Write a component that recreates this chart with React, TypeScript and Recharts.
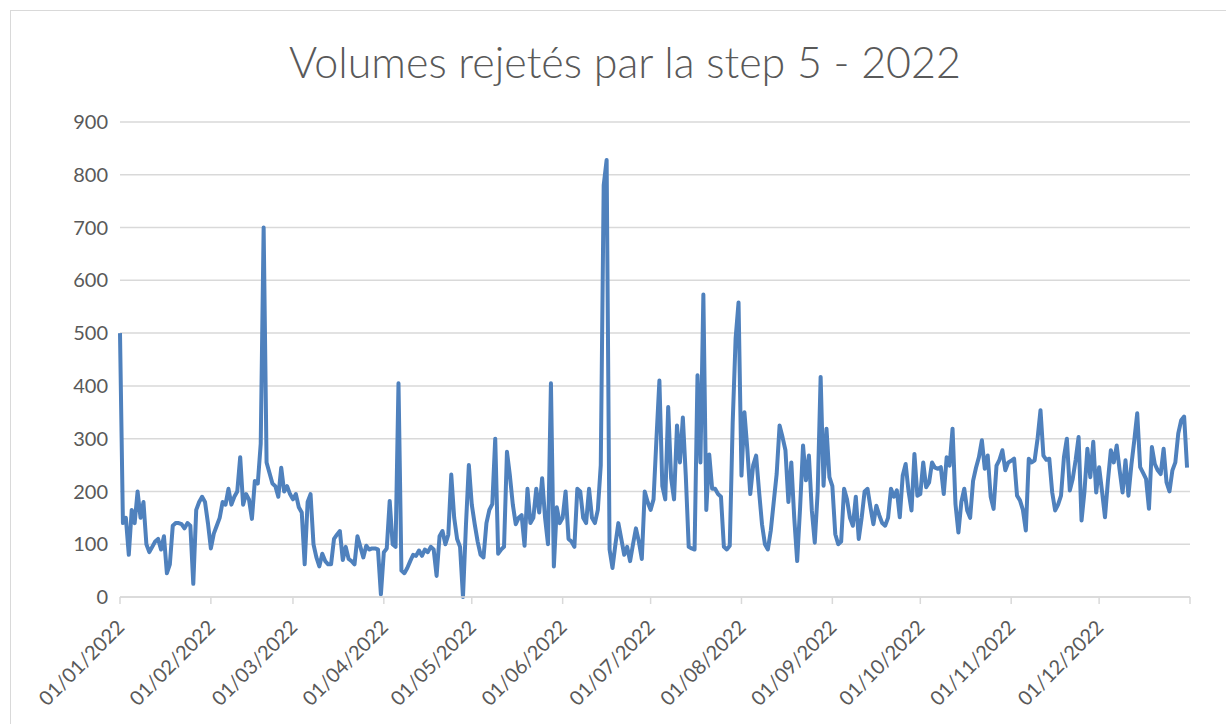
import { CartesianGrid, Line, LineChart, XAxis, YAxis } from "recharts";

const TEXT_COLOR = "#595959";
const GRID_COLOR = "#d9d9d9";
const LINE_COLOR = "#4f81bd";
const FONT = "Lato, 'Open Sans', sans-serif";

// daily values, one array per month (2022)
const jan = [500, 140, 150, 80, 165, 140, 200, 150, 180, 100, 85, 95, 105, 110, 90, 115, 45, 62, 135, 140, 140, 138, 130, 140, 135, 25, 165, 180, 190, 180, 140];
const feb = [92, 120, 135, 150, 180, 175, 205, 175, 190, 200, 265, 175, 195, 185, 148, 220, 215, 290, 700, 255, 235, 215, 210, 190, 245, 200, 210, 195];
const mar = [185, 195, 170, 160, 62, 180, 195, 100, 75, 58, 82, 68, 62, 62, 110, 118, 125, 70, 95, 72, 68, 62, 115, 95, 75, 97, 90, 92, 92, 90, 5];
const apr = [85, 92, 182, 100, 95, 405, 50, 45, 55, 68, 80, 78, 88, 78, 90, 85, 95, 90, 40, 115, 125, 100, 118, 232, 150, 110, 95, 0, 135, 250];
const may = [175, 138, 105, 80, 75, 140, 165, 176, 300, 82, 90, 95, 275, 230, 175, 138, 150, 155, 97, 205, 140, 150, 205, 160, 225, 150, 100, 405, 58, 170, 140];
const jun = [150, 200, 110, 105, 95, 205, 200, 150, 140, 205, 150, 140, 165, 250, 780, 828, 90, 55, 100, 140, 110, 80, 95, 68, 100, 130, 105, 72, 200, 180];
const jul = [165, 185, 300, 410, 210, 185, 360, 225, 185, 325, 255, 340, 230, 95, 92, 90, 420, 255, 573, 165, 270, 205, 205, 195, 190, 95, 90, 97, 330, 490, 558];
const aug = [230, 350, 280, 195, 250, 268, 200, 138, 100, 90, 126, 180, 233, 325, 303, 278, 180, 255, 150, 68, 170, 287, 221, 268, 164, 103, 200, 417, 211, 319, 227];
const sep = [210, 119, 100, 105, 205, 185, 150, 135, 190, 110, 150, 200, 205, 170, 138, 173, 155, 140, 135, 150, 205, 190, 202, 151, 230, 252, 200, 164, 271, 192];
const oct = [195, 255, 208, 217, 255, 245, 243, 246, 195, 265, 249, 319, 176, 122, 180, 205, 164, 150, 220, 245, 265, 297, 243, 268, 190, 167, 249, 260, 278, 240, 255];
const nov = [258, 262, 192, 183, 165, 126, 262, 255, 259, 300, 354, 268, 260, 262, 198, 164, 175, 192, 265, 300, 202, 224, 260, 303, 145, 200, 281, 227, 294, 198];
const dec = [246, 200, 151, 220, 278, 255, 287, 240, 198, 259, 192, 250, 297, 348, 246, 235, 224, 167, 284, 252, 240, 233, 281, 217, 200, 240, 255, 310, 335, 342, 245];

// first day of each month (day index from 01/01/2022) and its label
const monthStarts = [0, 31, 59, 90, 120, 151, 181, 212, 243, 273, 304, 334, 365];
const monthLabels = [
  "01/01/2022", "01/02/2022", "01/03/2022", "01/04/2022", "01/05/2022", "01/06/2022",
  "01/07/2022", "01/08/2022", "01/09/2022", "01/10/2022", "01/11/2022", "01/12/2022", "",
];
const yTicks = [0, 100, 200, 300, 400, 500, 600, 700, 800, 900];

const data = [jan, feb, mar, apr, may, jun, jul, aug, sep, oct, nov, dec]
  .flat()
  .map((value, day) => ({ day, value }));

function DateTick(props: any) {
  const { x, y, payload } = props;
  const idx = monthStarts.indexOf(payload.value);
  const label = idx >= 0 ? monthLabels[idx] : "";
  const ty = y + 17;
  return (
    <text
      x={x}
      y={ty}
      textAnchor="end"
      dominantBaseline="central"
      transform={`rotate(-45, ${x}, ${ty})`}
      fill={TEXT_COLOR}
      fontSize={20}
      fontFamily={FONT}
    >
      {label}
    </text>
  );
}

export default function App() {
  return (
    <div
      style={{
        position: "absolute",
        left: 0,
        top: 0,
        width: 1226,
        height: 724,
        overflow: "hidden",
        background: "#fff",
        fontFamily: FONT,
      }}
    >
      <div
        style={{
          position: "absolute",
          left: 10,
          top: 10,
          width: 1240,
          height: 740,
          border: `1px solid ${GRID_COLOR}`,
        }}
      />
      <div
        style={{
          position: "absolute",
          left: 10,
          top: 40,
          width: 1230,
          textAlign: "center",
          fontSize: 43,
          fontWeight: 300,
          lineHeight: "43px",
          color: TEXT_COLOR,
        }}
      >
        Volumes rejetés par la step 5 - 2022
      </div>
      <div style={{ position: "absolute", left: 0, top: 0 }}>
        <LineChart
          width={1226}
          height={724}
          data={data}
          margin={{ top: 122, right: 36, bottom: 27, left: 60 }}
        >
          <CartesianGrid stroke={GRID_COLOR} strokeWidth={1.5} vertical={false} />
          <XAxis
            dataKey="day"
            type="number"
            domain={[0, 365]}
            ticks={monthStarts}
            interval={0}
            height={100}
            stroke={GRID_COLOR}
            strokeWidth={1.5}
            tickSize={7}
            tick={<DateTick />}
          />
          <YAxis
            type="number"
            domain={[0, 900]}
            ticks={yTicks}
            interval={0}
            width={60}
            axisLine={false}
            tickLine={false}
            tickMargin={6}
            tick={{ fill: TEXT_COLOR, fontSize: 20, fontFamily: FONT }}
          />
          <Line
            type="linear"
            dataKey="value"
            stroke={LINE_COLOR}
            strokeWidth={4}
            strokeLinejoin="round"
            dot={false}
            isAnimationActive={false}
          />
        </LineChart>
      </div>
    </div>
  );
}
